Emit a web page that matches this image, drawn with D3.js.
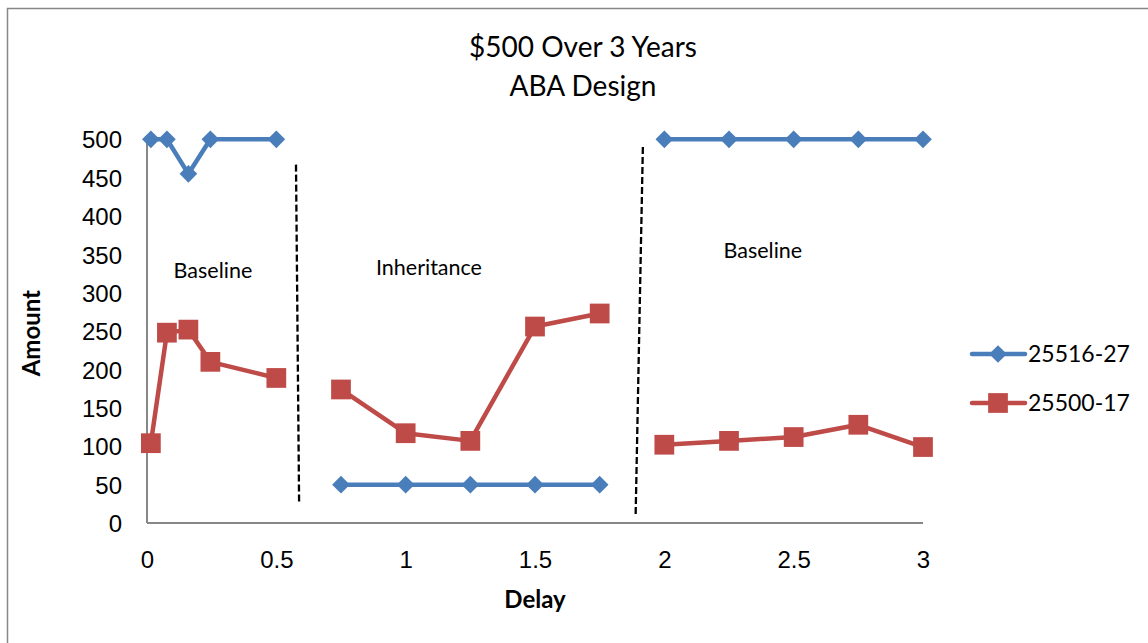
<!DOCTYPE html>
<html>
<head>
<meta charset="utf-8">
<script src="https://cdn.jsdelivr.net/npm/d3@7/dist/d3.min.js"></script>
<style>
  html, body { margin: 0; padding: 0; background: #fff; }
  svg { display: block; font-family: Lato, "Open Sans", sans-serif; }
</style>
</head>
<body>
<svg id="chart" width="1148" height="643"></svg>
<script>
// Delay (years) for each session
const delays = [0.015, 0.077, 0.16, 0.245, 0.5,
                0.75, 1, 1.25, 1.5, 1.75,
                2, 2.25, 2.5, 2.75, 3];

// Amounts chosen by each participant
const series1Name = "25516-27";
const series1Values = [500, 500, 455, 500, 500,
                       50, 50, 50, 50, 50,
                       500, 500, 500, 500, 500];

const series2Name = "25500-17";
const series2Values = [104, 248, 252, 210, 189,
                       174, 117, 107, 256, 273,
                       102, 107, 112, 128, 99];

// Phase boundaries (dashed separators): [x, y] endpoints in data units
const phaseLines = [
  [[0.576, 467], [0.588, 27]],
  [[1.917, 490], [1.889, 9]]
];

// Phase labels (baseline position)
const phaseLabels = [
  { text: "Baseline", x: 0.255, y: 319 },
  { text: "Inheritance", x: 1.09, y: 323 },
  { text: "Baseline", x: 2.381, y: 345 }
];

const xTicks = [0, 0.5, 1, 1.5, 2, 2.5, 3];
const yTicks = [0, 50, 100, 150, 200, 250, 300, 350, 400, 450, 500];

const titleLines = ["$500 Over 3 Years", "ABA Design"];
const xTitle = "Delay";
const yTitle = "Amount";

const svg = d3.select("#chart");

// Outer chart frame
svg.append("rect")
  .attr("x", 7.5).attr("y", 8.5)
  .attr("width", 1200).attr("height", 700)
  .attr("fill", "none").attr("stroke", "#878787").attr("stroke-width", 1.5);

const x = d3.scaleLinear().domain([0, 3]).range([147, 923]);
const y = d3.scaleLinear().domain([0, 500]).range([523, 139.3]);

// Axes (no tick marks)
const xAxis = svg.append("g")
  .attr("transform", `translate(0,${y(0)})`)
  .call(d3.axisBottom(x).tickValues(xTicks).tickSize(0).tickPadding(0)
        .tickFormat(d => d3.format("~g")(d)));
xAxis.select(".domain").attr("stroke", "#878787").attr("stroke-width", 2)
  .attr("d", `M${x(0)},0H${x(3)}`);
xAxis.selectAll("text").attr("y", 45).attr("dy", 0).attr("font-size", 24).attr("fill", "#000");

const yAxis = svg.append("g")
  .attr("transform", `translate(${x(0)},0)`)
  .call(d3.axisLeft(y).tickValues(yTicks).tickSize(0).tickPadding(25));
yAxis.select(".domain").attr("stroke", "#878787").attr("stroke-width", 2)
  .attr("d", `M0,${y(0)}V${y(500) - 2}`);
yAxis.selectAll("text").attr("font-size", 24).attr("fill", "#000").attr("dy", "0.36em");

// Title
svg.append("text")
  .attr("x", 583).attr("y", 57)
  .attr("text-anchor", "middle").attr("font-size", 28).attr("fill", "#000")
  .selectAll("tspan").data(titleLines).join("tspan")
  .attr("x", 583).attr("dy", (d, i) => i === 0 ? 0 : 39)
  .text(d => d);

// Axis titles
svg.append("text")
  .attr("x", x(1.5)).attr("y", 608)
  .attr("text-anchor", "middle").attr("font-size", 24).attr("font-weight", "bold")
  .text(xTitle);
svg.append("text")
  .attr("transform", `translate(40,${y(250) + 2}) rotate(-90)`)
  .attr("text-anchor", "middle").attr("font-size", 24).attr("font-weight", "bold")
  .text(yTitle);

// Phase separators
svg.append("g").selectAll("line").data(phaseLines).join("line")
  .attr("x1", d => x(d[0][0])).attr("y1", d => y(d[0][1]))
  .attr("x2", d => x(d[1][0])).attr("y2", d => y(d[1][1]))
  .attr("stroke", "#000").attr("stroke-width", 2.3).attr("stroke-dasharray", "7,3");

// Phase labels
svg.append("g").selectAll("text").data(phaseLabels).join("text")
  .attr("x", d => x(d.x)).attr("y", d => y(d.y))
  .attr("text-anchor", "middle").attr("font-size", 21.5).attr("fill", "#000")
  .text(d => d.text);

const blue = "#4a7ebb";
const red = "#be4b48";

const line = d3.line().x(d => x(d[0])).y(d => y(d[1]));
const pts1 = delays.map((d, i) => [d, series1Values[i]]);
const pts2 = delays.map((d, i) => [d, series2Values[i]]);

// Each phase is drawn as its own segment
const segments = pts => [pts.slice(0, 5), pts.slice(5, 10), pts.slice(10, 15)];

function drawSeries(pts, color, shape, size) {
  const g = svg.append("g");
  g.selectAll("path.seg").data(segments(pts)).join("path")
    .attr("class", "seg")
    .attr("d", line).attr("fill", "none").attr("stroke", color)
    .attr("stroke-width", 4.5).attr("stroke-linejoin", "round").attr("stroke-linecap", "round");
  g.selectAll("path.mk").data(pts).join("path")
    .attr("class", "mk")
    .attr("transform", d => `translate(${x(d[0])},${y(d[1])})`)
    .attr("d", d3.symbol(shape, size))
    .attr("fill", color);
}

drawSeries(pts1, blue, d3.symbolDiamond2, 200);
drawSeries(pts2, red, d3.symbolSquare, 390);

// Legend
const legend = [
  { name: series1Name, color: blue, shape: d3.symbolDiamond2, size: 200, y: 354 },
  { name: series2Name, color: red, shape: d3.symbolSquare, size: 390, y: 403 }
];
const lg = svg.append("g").selectAll("g").data(legend).join("g")
  .attr("transform", d => `translate(0,${d.y})`);
lg.append("line")
  .attr("x1", 972).attr("x2", 1025).attr("y1", 0).attr("y2", 0)
  .attr("stroke", d => d.color).attr("stroke-width", 4.5).attr("stroke-linecap", "round");
lg.append("path")
  .attr("transform", "translate(998,0)")
  .attr("d", d => d3.symbol(d.shape, d.size)())
  .attr("fill", d => d.color);
lg.append("text")
  .attr("x", 1028).attr("y", 0).attr("dy", "0.36em")
  .attr("font-size", 23).attr("fill", "#000")
  .text(d => d.name);
</script>
</body>
</html>
